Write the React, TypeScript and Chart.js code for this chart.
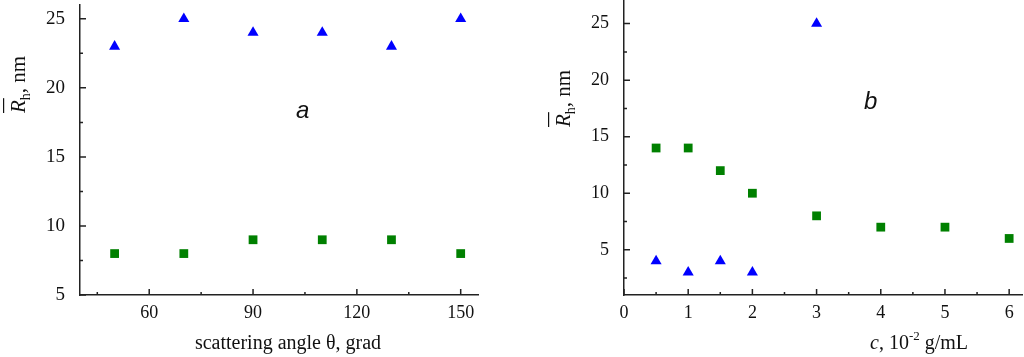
import React, { useEffect, useRef } from "react";
import { Chart, registerables } from "chart.js";

Chart.register(...registerables);

// ---------- Panel a data ----------
const anglesA = [50, 70, 90, 110, 130, 150];
const triA = [23, 25, 24, 24, 23, 25];
const sqA = [8, 8, 9, 9, 9, 8];
const xTicksA = [60, 90, 120, 150];
const xMinorA = [45, 75, 105, 135];
const yTicksA = [5, 10, 15, 20, 25];
const yMinorA = [7.5, 12.5, 17.5, 22.5];

// ---------- Panel b data ----------
const concSq = [0.5, 1, 1.5, 2, 3, 4, 5, 6];
const sqB = [14, 14, 12, 10, 8, 7, 7, 6];
const concTri = [0.5, 1, 1.5, 2, 3];
const triB = [4, 3, 4, 3, 25];
const xTicksB = [0, 1, 2, 3, 4, 5, 6];
const xMinorB = [0.5, 1.5, 2.5, 3.5, 4.5, 5.5];
const yTicksB = [5, 10, 15, 20, 25];
const yMinorB = [2.5, 7.5, 12.5, 17.5, 22.5];

const SERIF = "'Liberation Serif', 'Times New Roman', serif";
const SANS = "'Liberation Sans', Arial, sans-serif";
const AXIS = "#222";

type Decor = {
  xMajor: number[];
  xMinor: number[];
  yMajor: number[];
  yMinor: number[];
  drawText: (ctx: CanvasRenderingContext2D) => void;
};

function drawYTitle(ctx: CanvasRenderingContext2D, bx: number, by: number) {
  ctx.save();
  ctx.translate(bx, by);
  ctx.rotate(-Math.PI / 2);
  ctx.fillStyle = "#111";
  ctx.textBaseline = "alphabetic";
  ctx.textAlign = "left";
  ctx.font = `italic 21px ${SERIF}`;
  ctx.fillText("R", 0, 0);
  const wR = ctx.measureText("R").width;
  ctx.fillRect(0, -22, wR + 2, 1.2);
  ctx.font = `14px ${SERIF}`;
  ctx.fillText("h", wR, 5);
  const wh = ctx.measureText("h").width;
  ctx.font = `21px ${SERIF}`;
  ctx.fillText(", nm", wR + wh, 0);
  ctx.restore();
}

function makePlugin(d: Decor) {
  return {
    id: "decor",
    afterDraw(chart: any) {
      const ctx: CanvasRenderingContext2D = chart.ctx;
      const xs = chart.scales.x;
      const ys = chart.scales.y;
      const a = chart.chartArea;
      ctx.save();
      ctx.strokeStyle = AXIS;
      ctx.lineWidth = 1.5;
      ctx.beginPath();
      const tick = (vals: number[], len: number, horiz: boolean) => {
        vals.forEach((v) => {
          if (horiz) {
            const px = xs.getPixelForValue(v);
            ctx.moveTo(px, a.bottom);
            ctx.lineTo(px, a.bottom - len);
          } else {
            const py = ys.getPixelForValue(v);
            ctx.moveTo(a.left, py);
            ctx.lineTo(a.left + len, py);
          }
        });
      };
      tick(d.xMajor, 6, true);
      tick(d.xMinor, 3, true);
      tick(d.yMajor, 6, false);
      tick(d.yMinor, 3, false);
      ctx.stroke();
      ctx.restore();
      d.drawText(ctx);
    },
  };
}

function buildConfig(opts: {
  datasets: any[];
  xMin: number;
  xMax: number;
  yMin: number;
  yMax: number;
  xTicks: number[];
  yTicks: number[];
  yWidth: number;
  padding: any;
  yFont: number;
  decor: Decor;
}): any {
  return {
    type: "scatter",
    data: { datasets: opts.datasets },
    options: {
      responsive: false,
      animation: false,
      layout: { padding: opts.padding, autoPadding: false },
      plugins: { legend: { display: false }, tooltip: { enabled: false } },
      scales: {
        x: {
          type: "linear",
          min: opts.xMin,
          max: opts.xMax,
          grid: { display: false },
          border: { display: true, color: AXIS, width: 1.5 },
          afterBuildTicks: (s: any) => {
            s.ticks = opts.xTicks.map((v) => ({ value: v }));
          },
          afterFit: (s: any) => {
            s.height = 62;
            s.paddingLeft = 0;
            s.paddingRight = 0;
            s.paddingTop = 0;
            s.paddingBottom = 0;
          },
          ticks: {
            color: "#111",
            font: { family: SERIF, size: 18 },
            padding: -1,
            maxRotation: 0,
            autoSkip: false,
          },
        },
        y: {
          type: "linear",
          min: opts.yMin,
          max: opts.yMax,
          grid: { display: false },
          border: { display: true, color: AXIS, width: 1.5 },
          afterBuildTicks: (s: any) => {
            s.ticks = opts.yTicks.map((v) => ({ value: v }));
          },
          afterFit: (s: any) => {
            s.width = opts.yWidth;
            s.paddingLeft = 0;
            s.paddingRight = 0;
            s.paddingTop = 0;
            s.paddingBottom = 0;
          },
          ticks: {
            color: "#111",
            font: { family: SERIF, size: opts.yFont },
            padding: 7,
            autoSkip: false,
          },
        },
      },
    },
    plugins: [makePlugin(opts.decor)],
  };
}

const triStyle = {
  pointStyle: "triangle",
  pointRadius: 6.4,
  backgroundColor: "#0000ff",
  borderColor: "#0000ff",
  pointBorderWidth: 0,
  showLine: false,
};
const sqStyle = {
  pointStyle: "rect",
  pointRadius: 6.2,
  backgroundColor: "#008000",
  borderColor: "#008000",
  pointBorderWidth: 0,
  showLine: false,
};

export default function App() {
  const refA = useRef<HTMLCanvasElement>(null);
  const refB = useRef<HTMLCanvasElement>(null);

  useEffect(() => {
    const chartA = new Chart(
      refA.current as HTMLCanvasElement,
      buildConfig({
        datasets: [
          { ...triStyle, data: anglesA.map((x, i) => ({ x, y: triA[i] })) },
          { ...sqStyle, data: anglesA.map((x, i) => ({ x, y: sqA[i] })) },
        ],
        xMin: 40,
        xMax: 155,
        yMin: 5,
        yMax: 26,
        xTicks: xTicksA,
        yTicks: yTicksA,
        yWidth: 80,
        padding: { left: 0, top: 5, right: 34, bottom: 0 },
        yFont: 19,
        decor: {
          xMajor: xTicksA,
          xMinor: xMinorA,
          yMajor: yTicksA,
          yMinor: yMinorA,
          drawText: (ctx) => {
            drawYTitle(ctx, 25, 113);
            ctx.save();
            ctx.fillStyle = "#111";
            ctx.font = `20px ${SERIF}`;
            ctx.textAlign = "center";
            ctx.textBaseline = "alphabetic";
            ctx.fillText("scattering angle \u03b8, grad", 288, 349);
            ctx.font = `italic 24px ${SANS}`;
            ctx.textAlign = "left";
            ctx.fillText("a", 296, 118);
            ctx.restore();
          },
        },
      })
    );
    const chartB = new Chart(
      refB.current as HTMLCanvasElement,
      buildConfig({
        datasets: [
          { ...triStyle, data: concTri.map((x, i) => ({ x, y: triB[i] })) },
          { ...sqStyle, data: concSq.map((x, i) => ({ x, y: sqB[i] })) },
        ],
        xMin: 0,
        xMax: 6.2,
        yMin: 1,
        yMax: 27,
        xTicks: xTicksB,
        yTicks: yTicksB,
        yWidth: 112,
        padding: { left: 0, top: 1, right: 2, bottom: 0 },
        yFont: 18,
        decor: {
          xMajor: xTicksB,
          xMinor: xMinorB,
          yMajor: yTicksB,
          yMinor: yMinorB,
          drawText: (ctx) => {
            drawYTitle(ctx, 58, 127);
            ctx.save();
            ctx.fillStyle = "#111";
            ctx.textBaseline = "alphabetic";
            ctx.textAlign = "left";
            let x = 358;
            const y = 349;
            ctx.font = `italic 20px ${SERIF}`;
            ctx.fillText("c", x, y);
            x += ctx.measureText("c").width;
            ctx.font = `20px ${SERIF}`;
            ctx.fillText(", 10", x, y);
            x += ctx.measureText(", 10").width;
            ctx.font = `13px ${SERIF}`;
            ctx.fillText("-2", x, y - 9);
            x += ctx.measureText("-2").width;
            ctx.font = `20px ${SERIF}`;
            ctx.fillText(" g/mL", x, y);
            ctx.font = `italic 24px ${SANS}`;
            ctx.fillText("b", 352, 109);
            ctx.restore();
          },
        },
      })
    );
    return () => {
      chartA.destroy();
      chartB.destroy();
    };
  }, []);

  return (
    <div
      style={{
        position: "absolute",
        left: 0,
        top: 0,
        width: 1024,
        height: 357,
        background: "#fff",
        overflow: "hidden",
      }}
    >
      <canvas
        ref={refA}
        width={512}
        height={357}
        style={{ position: "absolute", left: 0, top: 0, width: 512, height: 357 }}
      />
      <canvas
        ref={refB}
        width={512}
        height={357}
        style={{ position: "absolute", left: 512, top: 0, width: 512, height: 357 }}
      />
    </div>
  );
}
